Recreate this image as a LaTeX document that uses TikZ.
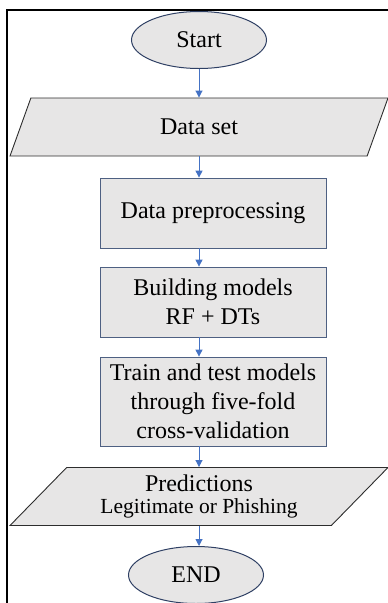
\documentclass[tikz,border=0pt]{standalone}
\usepackage{fontspec}
\setmainfont{Liberation Serif}
\usetikzlibrary{arrows.meta,shapes.geometric,positioning,calc}
\definecolor{chartFill}{RGB}{231,230,230}
\definecolor{termEdge} {RGB}{47,64,100}
\definecolor{boxEdge}  {RGB}{78,96,130}
\definecolor{ioEdge}   {RGB}{45,45,45}
\definecolor{flowBlue} {RGB}{68,114,196}

\begin{document}
\begin{tikzpicture}[x=1pt,y=-1pt,
    termnode/.style={ellipse,draw=termEdge,fill=chartFill,line width=1pt,
                     minimum width=135pt,minimum height=57pt,inner sep=0pt,
                     font=\fontsize{24}{29}\selectfont},
    procbox/.style={rectangle,draw=boxEdge,fill=chartFill,line width=0.8pt,
                    minimum width=226pt,inner sep=0pt,align=center,
                    font=\fontsize{24}{29}\selectfont},
    iobox/.style={trapezium,trapezium left angle=37.4,trapezium right angle=142.6,
                  trapezium stretches body=true,draw=ioEdge,fill=chartFill,
                  line width=0.9pt,minimum width=378pt,minimum height=58pt,
                  inner sep=0pt,align=center,font=\fontsize{24}{29}\selectfont},
    flow/.style={-{Triangle[width=7pt,length=7pt]},flowBlue,line width=1pt}]
  \useasboundingbox (0,0) rectangle (388,603);

  % outer frame
  \draw[line width=2pt] (7,603) -- (7,10) -- (388,10);

  % flowchart steps
  \node[termnode] (start) at (199,40) {Start};
  \node[iobox] (dset) at (199,127) {Data set};
  \node[procbox,minimum height=70pt] (prep) at (213,213) {Data preprocessing};
  \node[procbox,minimum height=70pt] (build) at (213,302) {Building models\\RF + DTs};
  \node[procbox,minimum height=89pt] (train) at (213,401.5)
       {Train and test models\\through five-fold\\cross-validation};
  \node[iobox,font=\fontsize{24}{22}\selectfont] (pred) at (199,496.5)
       {Predictions\\{\fontsize{21.5}{22}\selectfont Legitimate or Phishing}};
  \node[termnode] (stop) at (196,575) {END};

  % arrows
  \draw[flow] (start.south) -- (start.south |- dset.north);
  \draw[flow] (dset.south) -- (dset.south |- prep.north);
  \draw[flow] (prep.south -| start) -- (build.north -| start);
  \draw[flow] (build.south -| start) -- (train.north -| start);
  \draw[flow] (train.south -| start) -- (pred.north -| start);
  \draw[flow] (pred.south) -- (pred.south |- stop.north);
\end{tikzpicture}
\end{document}
